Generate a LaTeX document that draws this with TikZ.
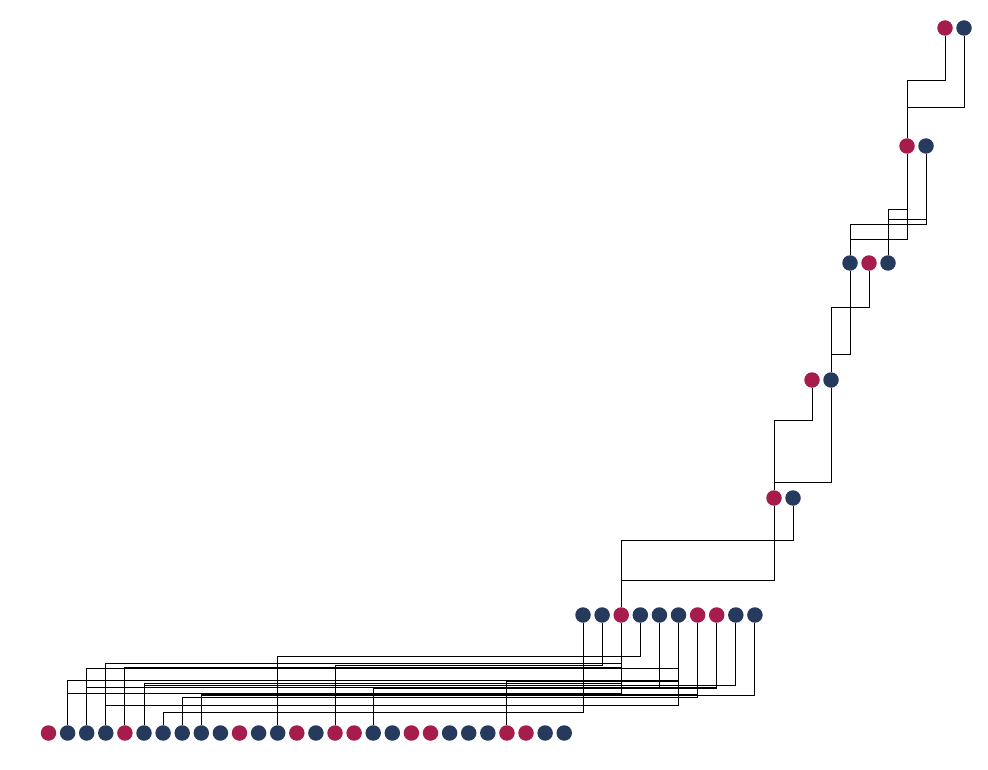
\documentclass[tikz,border=0pt]{standalone}
\usetikzlibrary{backgrounds}
\definecolor{fem}{RGB}{166,28,76}
\definecolor{mal}{RGB}{38,58,94}
\tikzset{
  pers/.style={circle,inner sep=0pt,minimum size=15.5pt,draw=none},
  female/.style={pers,fill=fem},
  male/.style={pers,fill=mal},
  edge/.style={draw=black,line width=0.9pt}
}
\newcommand\pedge[3]{\draw[edge] (#1) -- (#1 |- 0,#3) -- (#2 |- 0,#3) -- (#2);}
\begin{document}
\begin{tikzpicture}[x=1pt,y=-1pt]
\useasboundingbox (0,0) rectangle (988,770);
% level 0
\node[female] (t0) at (945,28) {};
\node[male]   (t1) at (964,28) {};
% level 1
\node[female] (g0) at (907,146) {};
\node[male]   (g1) at (926,146) {};
% level 2
\node[male]   (h0) at (850,263) {};
\node[female] (h1) at (869,263) {};
\node[male]   (h2) at (888,263) {};
% level 3
\node[female] (k0) at (812,380) {};
\node[male]   (k1) at (831,380) {};
% level 4
\node[female] (p0) at (774,498) {};
\node[male]   (p1) at (793,498) {};
% level 5
\foreach \s [count=\i from 0] in {male,male,female,male,male,male,female,female,male,male}
  \node[\s] (m\i) at ({583+19.1*\i},615) {};
% level 6
\foreach \s [count=\i from 0] in {female,male,male,male,female,male,male,male,male,male,female,male,male,female,male,female,female,male,male,female,female,male,male,male,female,female,male,male}
  \node[\s] (b\i) at ({48.5+19.1*\i},733) {};
\begin{pgfonlayer}{background}
\pedge{g0}{t0}{80}
\pedge{g0}{t1}{107}
\pedge{h0}{g1}{224}
\pedge{h0}{g0}{239}
\pedge{h2}{g0}{209}
\pedge{h2}{g1}{219}
\pedge{k1}{h1}{307}
\pedge{k1}{h0}{354}
\pedge{p0}{k0}{420}
\pedge{p0}{k1}{482}
\pedge{m2}{p1}{540}
\pedge{m2}{p0}{580}
% level 5 -> level 6
\pedge{b1}{m2}{693}
\pedge{b1}{m5}{680}
\pedge{b2}{m5}{668}
\pedge{b2}{m7}{687}
\pedge{b3}{m2}{663}
\pedge{b3}{m5}{705}
\pedge{b4}{m2}{667}
\pedge{b4}{m4}{687}
\pedge{b5}{m2}{683}
\pedge{b5}{m8}{685}
\pedge{b6}{m0}{712}
\pedge{b7}{m6}{697}
\pedge{b8}{m6}{694}
\pedge{b8}{m9}{695}
\pedge{b12}{m3}{656}
\pedge{b15}{m1}{665}
\pedge{b17}{m7}{688}
\pedge{b24}{m5}{681}
\end{pgfonlayer}
\end{tikzpicture}
\end{document}
